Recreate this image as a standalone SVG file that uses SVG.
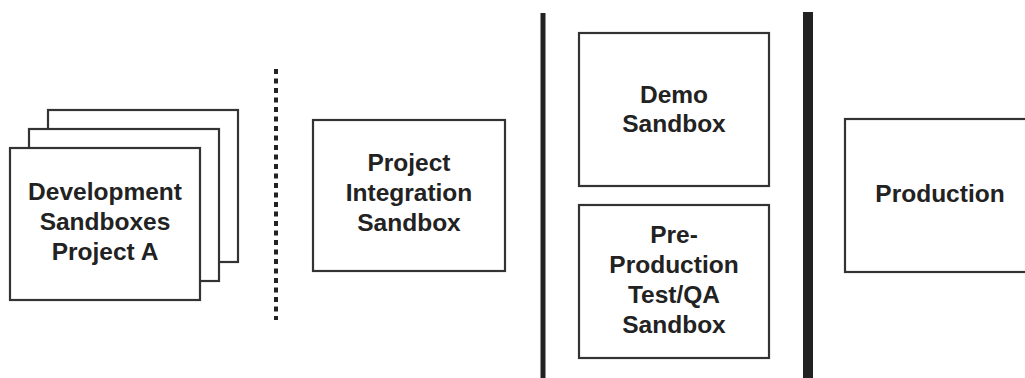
<svg xmlns="http://www.w3.org/2000/svg" width="1025" height="378" viewBox="0 0 1025 378">
<style>
.box{fill:#fff;stroke:#333;stroke-width:2.2}
.lbl{font-family:"Liberation Sans",Arial,Helvetica,sans-serif;font-weight:bold;font-size:24.5px;fill:#222;text-anchor:middle}
</style>
<rect width="1025" height="378" fill="#fff"/>
<g id="separators">
<line x1="276" y1="69" x2="276" y2="320" stroke="#222" stroke-width="4" stroke-dasharray="5 4.5"/>
<line x1="543" y1="13" x2="543" y2="378" stroke="#222" stroke-width="5"/>
<line x1="808" y1="12" x2="808" y2="378" stroke="#222" stroke-width="10"/>
</g>
<g id="dev-sandboxes">
<rect class="box" x="48" y="110" width="190" height="152"/>
<rect class="box" x="29" y="129" width="190" height="152"/>
<rect class="box" x="10" y="148" width="190" height="152"/>
<text class="lbl" x="105" y="200">Development</text>
<text class="lbl" x="105" y="230">Sandboxes</text>
<text class="lbl" x="105" y="260">Project A</text>
</g>
<g id="integration">
<rect class="box" x="313" y="120" width="192" height="151"/>
<text class="lbl" x="409" y="171">Project</text>
<text class="lbl" x="409" y="201">Integration</text>
<text class="lbl" x="409" y="231">Sandbox</text>
</g>
<g id="demo">
<rect class="box" x="579" y="33" width="190" height="153"/>
<text class="lbl" x="674" y="103">Demo</text>
<text class="lbl" x="674" y="132">Sandbox</text>
</g>
<g id="preprod">
<rect class="box" x="579" y="205" width="190" height="153"/>
<text class="lbl" x="674" y="243">Pre-</text>
<text class="lbl" x="674" y="273">Production</text>
<text class="lbl" x="674" y="303">Test/QA</text>
<text class="lbl" x="674" y="333">Sandbox</text>
</g>
<g id="production">
<rect class="box" x="845" y="119" width="200" height="153"/>
<text class="lbl" x="940" y="202">Production</text>
</g>
</svg>
